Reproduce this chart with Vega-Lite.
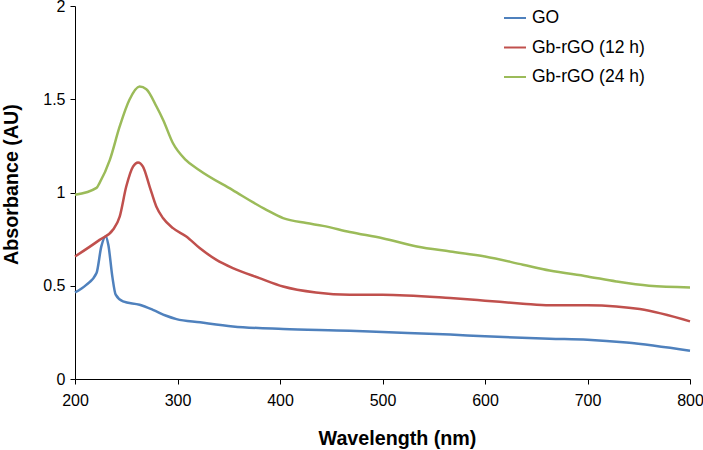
{
  "$schema": "https://vega.github.io/schema/vega-lite/v6.json",
  "autosize": "none",
  "width": 615,
  "height": 373,
  "padding": {"left": 75, "top": 6, "right": 13, "bottom": 71},
  "background": "white",
  "config": {
    "view": {"stroke": null},
    "font": "Liberation Sans"
  },
  "data": {
    "values": [
      {"wl": 200, "a": 0.464, "s": "GO"},
      {"wl": 211, "a": 0.505, "s": "GO"},
      {"wl": 221, "a": 0.568, "s": "GO"},
      {"wl": 225.7, "a": 0.711, "s": "GO"},
      {"wl": 229.9, "a": 0.764, "s": "GO"},
      {"wl": 232.5, "a": 0.72, "s": "GO"},
      {"wl": 236.4, "a": 0.55, "s": "GO"},
      {"wl": 239.7, "a": 0.452, "s": "GO"},
      {"wl": 246.8, "a": 0.416, "s": "GO"},
      {"wl": 263, "a": 0.398, "s": "GO"},
      {"wl": 276, "a": 0.371, "s": "GO"},
      {"wl": 289, "a": 0.339, "s": "GO"},
      {"wl": 299, "a": 0.321, "s": "GO"},
      {"wl": 322, "a": 0.304, "s": "GO"},
      {"wl": 354, "a": 0.282, "s": "GO"},
      {"wl": 403, "a": 0.268, "s": "GO"},
      {"wl": 468, "a": 0.259, "s": "GO"},
      {"wl": 500, "a": 0.252, "s": "GO"},
      {"wl": 566, "a": 0.238, "s": "GO"},
      {"wl": 600, "a": 0.229, "s": "GO"},
      {"wl": 663, "a": 0.216, "s": "GO"},
      {"wl": 700, "a": 0.211, "s": "GO"},
      {"wl": 738, "a": 0.196, "s": "GO"},
      {"wl": 800, "a": 0.152, "s": "GO"},
      {"wl": 200, "a": 0.657, "s": "Gb-rGO (12 h)"},
      {"wl": 224, "a": 0.746, "s": "Gb-rGO (12 h)"},
      {"wl": 237, "a": 0.8, "s": "Gb-rGO (12 h)"},
      {"wl": 243.6, "a": 0.871, "s": "Gb-rGO (12 h)"},
      {"wl": 250, "a": 1.032, "s": "Gb-rGO (12 h)"},
      {"wl": 256.6, "a": 1.139, "s": "Gb-rGO (12 h)"},
      {"wl": 261.5, "a": 1.161, "s": "Gb-rGO (12 h)"},
      {"wl": 266.3, "a": 1.139, "s": "Gb-rGO (12 h)"},
      {"wl": 272.8, "a": 1.032, "s": "Gb-rGO (12 h)"},
      {"wl": 279.3, "a": 0.925, "s": "Gb-rGO (12 h)"},
      {"wl": 285.8, "a": 0.863, "s": "Gb-rGO (12 h)"},
      {"wl": 295.6, "a": 0.809, "s": "Gb-rGO (12 h)"},
      {"wl": 308.6, "a": 0.764, "s": "Gb-rGO (12 h)"},
      {"wl": 321.6, "a": 0.702, "s": "Gb-rGO (12 h)"},
      {"wl": 338, "a": 0.639, "s": "Gb-rGO (12 h)"},
      {"wl": 354, "a": 0.595, "s": "Gb-rGO (12 h)"},
      {"wl": 380, "a": 0.541, "s": "Gb-rGO (12 h)"},
      {"wl": 403, "a": 0.496, "s": "Gb-rGO (12 h)"},
      {"wl": 435, "a": 0.464, "s": "Gb-rGO (12 h)"},
      {"wl": 468, "a": 0.452, "s": "Gb-rGO (12 h)"},
      {"wl": 500, "a": 0.452, "s": "Gb-rGO (12 h)"},
      {"wl": 566, "a": 0.434, "s": "Gb-rGO (12 h)"},
      {"wl": 600, "a": 0.42, "s": "Gb-rGO (12 h)"},
      {"wl": 637, "a": 0.404, "s": "Gb-rGO (12 h)"},
      {"wl": 663, "a": 0.395, "s": "Gb-rGO (12 h)"},
      {"wl": 700, "a": 0.395, "s": "Gb-rGO (12 h)"},
      {"wl": 728, "a": 0.389, "s": "Gb-rGO (12 h)"},
      {"wl": 751, "a": 0.375, "s": "Gb-rGO (12 h)"},
      {"wl": 800, "a": 0.309, "s": "Gb-rGO (12 h)"},
      {"wl": 200, "a": 0.988, "s": "Gb-rGO (24 h)"},
      {"wl": 221, "a": 1.025, "s": "Gb-rGO (24 h)"},
      {"wl": 224, "a": 1.052, "s": "Gb-rGO (24 h)"},
      {"wl": 234, "a": 1.175, "s": "Gb-rGO (24 h)"},
      {"wl": 243.6, "a": 1.354, "s": "Gb-rGO (24 h)"},
      {"wl": 253, "a": 1.496, "s": "Gb-rGO (24 h)"},
      {"wl": 263, "a": 1.568, "s": "Gb-rGO (24 h)"},
      {"wl": 269.6, "a": 1.554, "s": "Gb-rGO (24 h)"},
      {"wl": 279.5, "a": 1.461, "s": "Gb-rGO (24 h)"},
      {"wl": 286, "a": 1.389, "s": "Gb-rGO (24 h)"},
      {"wl": 295.6, "a": 1.264, "s": "Gb-rGO (24 h)"},
      {"wl": 308, "a": 1.175, "s": "Gb-rGO (24 h)"},
      {"wl": 321, "a": 1.121, "s": "Gb-rGO (24 h)"},
      {"wl": 353.5, "a": 1.014, "s": "Gb-rGO (24 h)"},
      {"wl": 386.7, "a": 0.907, "s": "Gb-rGO (24 h)"},
      {"wl": 403, "a": 0.863, "s": "Gb-rGO (24 h)"},
      {"wl": 425.7, "a": 0.836, "s": "Gb-rGO (24 h)"},
      {"wl": 442, "a": 0.821, "s": "Gb-rGO (24 h)"},
      {"wl": 468, "a": 0.788, "s": "Gb-rGO (24 h)"},
      {"wl": 500, "a": 0.755, "s": "Gb-rGO (24 h)"},
      {"wl": 533.5, "a": 0.711, "s": "Gb-rGO (24 h)"},
      {"wl": 566, "a": 0.684, "s": "Gb-rGO (24 h)"},
      {"wl": 600, "a": 0.657, "s": "Gb-rGO (24 h)"},
      {"wl": 637, "a": 0.613, "s": "Gb-rGO (24 h)"},
      {"wl": 663, "a": 0.582, "s": "Gb-rGO (24 h)"},
      {"wl": 700, "a": 0.55, "s": "Gb-rGO (24 h)"},
      {"wl": 728, "a": 0.523, "s": "Gb-rGO (24 h)"},
      {"wl": 760, "a": 0.5, "s": "Gb-rGO (24 h)"},
      {"wl": 800, "a": 0.491, "s": "Gb-rGO (24 h)"}
    ]
  },
  "mark": {"type": "line", "strokeWidth": 2.5, "interpolate": "monotone"},
  "encoding": {
    "x": {
      "field": "wl",
      "type": "quantitative",
      "scale": {"domain": [200, 800], "nice": false},
      "axis": {
        "title": "Wavelength (nm)",
        "values": [200, 300, 400, 500, 600, 700, 800],
        "grid": false,
        "labelFlush": false,
        "domainColor": "black",
        "tickColor": "black",
        "tickSize": 5,
        "labelFontSize": 16,
        "labelColor": "black",
        "labelPadding": 8,
        "titleFontSize": 19.7,
        "titleFontWeight": "bold",
        "titleColor": "black",
        "titlePadding": 20,
        "titleX": 322
      }
    },
    "y": {
      "field": "a",
      "type": "quantitative",
      "scale": {"domain": [0, 2], "nice": false},
      "axis": {
        "title": "Absorbance (AU)",
        "values": [0, 0.5, 1, 1.5, 2],
        "format": "~g",
        "grid": false,
        "labelFlush": false,
        "domainColor": "black",
        "tickColor": "black",
        "tickSize": 5,
        "labelFontSize": 16,
        "labelColor": "black",
        "labelPadding": 5,
        "titleFontSize": 19.7,
        "titleFontWeight": "bold",
        "titleColor": "black",
        "titlePadding": 21,
        "titleY": 178
      }
    },
    "color": {
      "field": "s",
      "type": "nominal",
      "sort": ["GO", "Gb-rGO (12 h)", "Gb-rGO (24 h)"],
      "scale": {
        "domain": ["GO", "Gb-rGO (12 h)", "Gb-rGO (24 h)"],
        "range": ["#4F81BD", "#C0504D", "#9BBB59"]
      },
      "legend": {
        "title": null,
        "orient": "none",
        "legendX": 428,
        "legendY": 0,
        "symbolType": "stroke",
        "symbolSize": 484,
        "symbolStrokeWidth": 2,
        "labelFontSize": 17.5,
        "labelColor": "black",
        "labelOffset": 5,
        "rowPadding": 8.5
      }
    }
  }
}
